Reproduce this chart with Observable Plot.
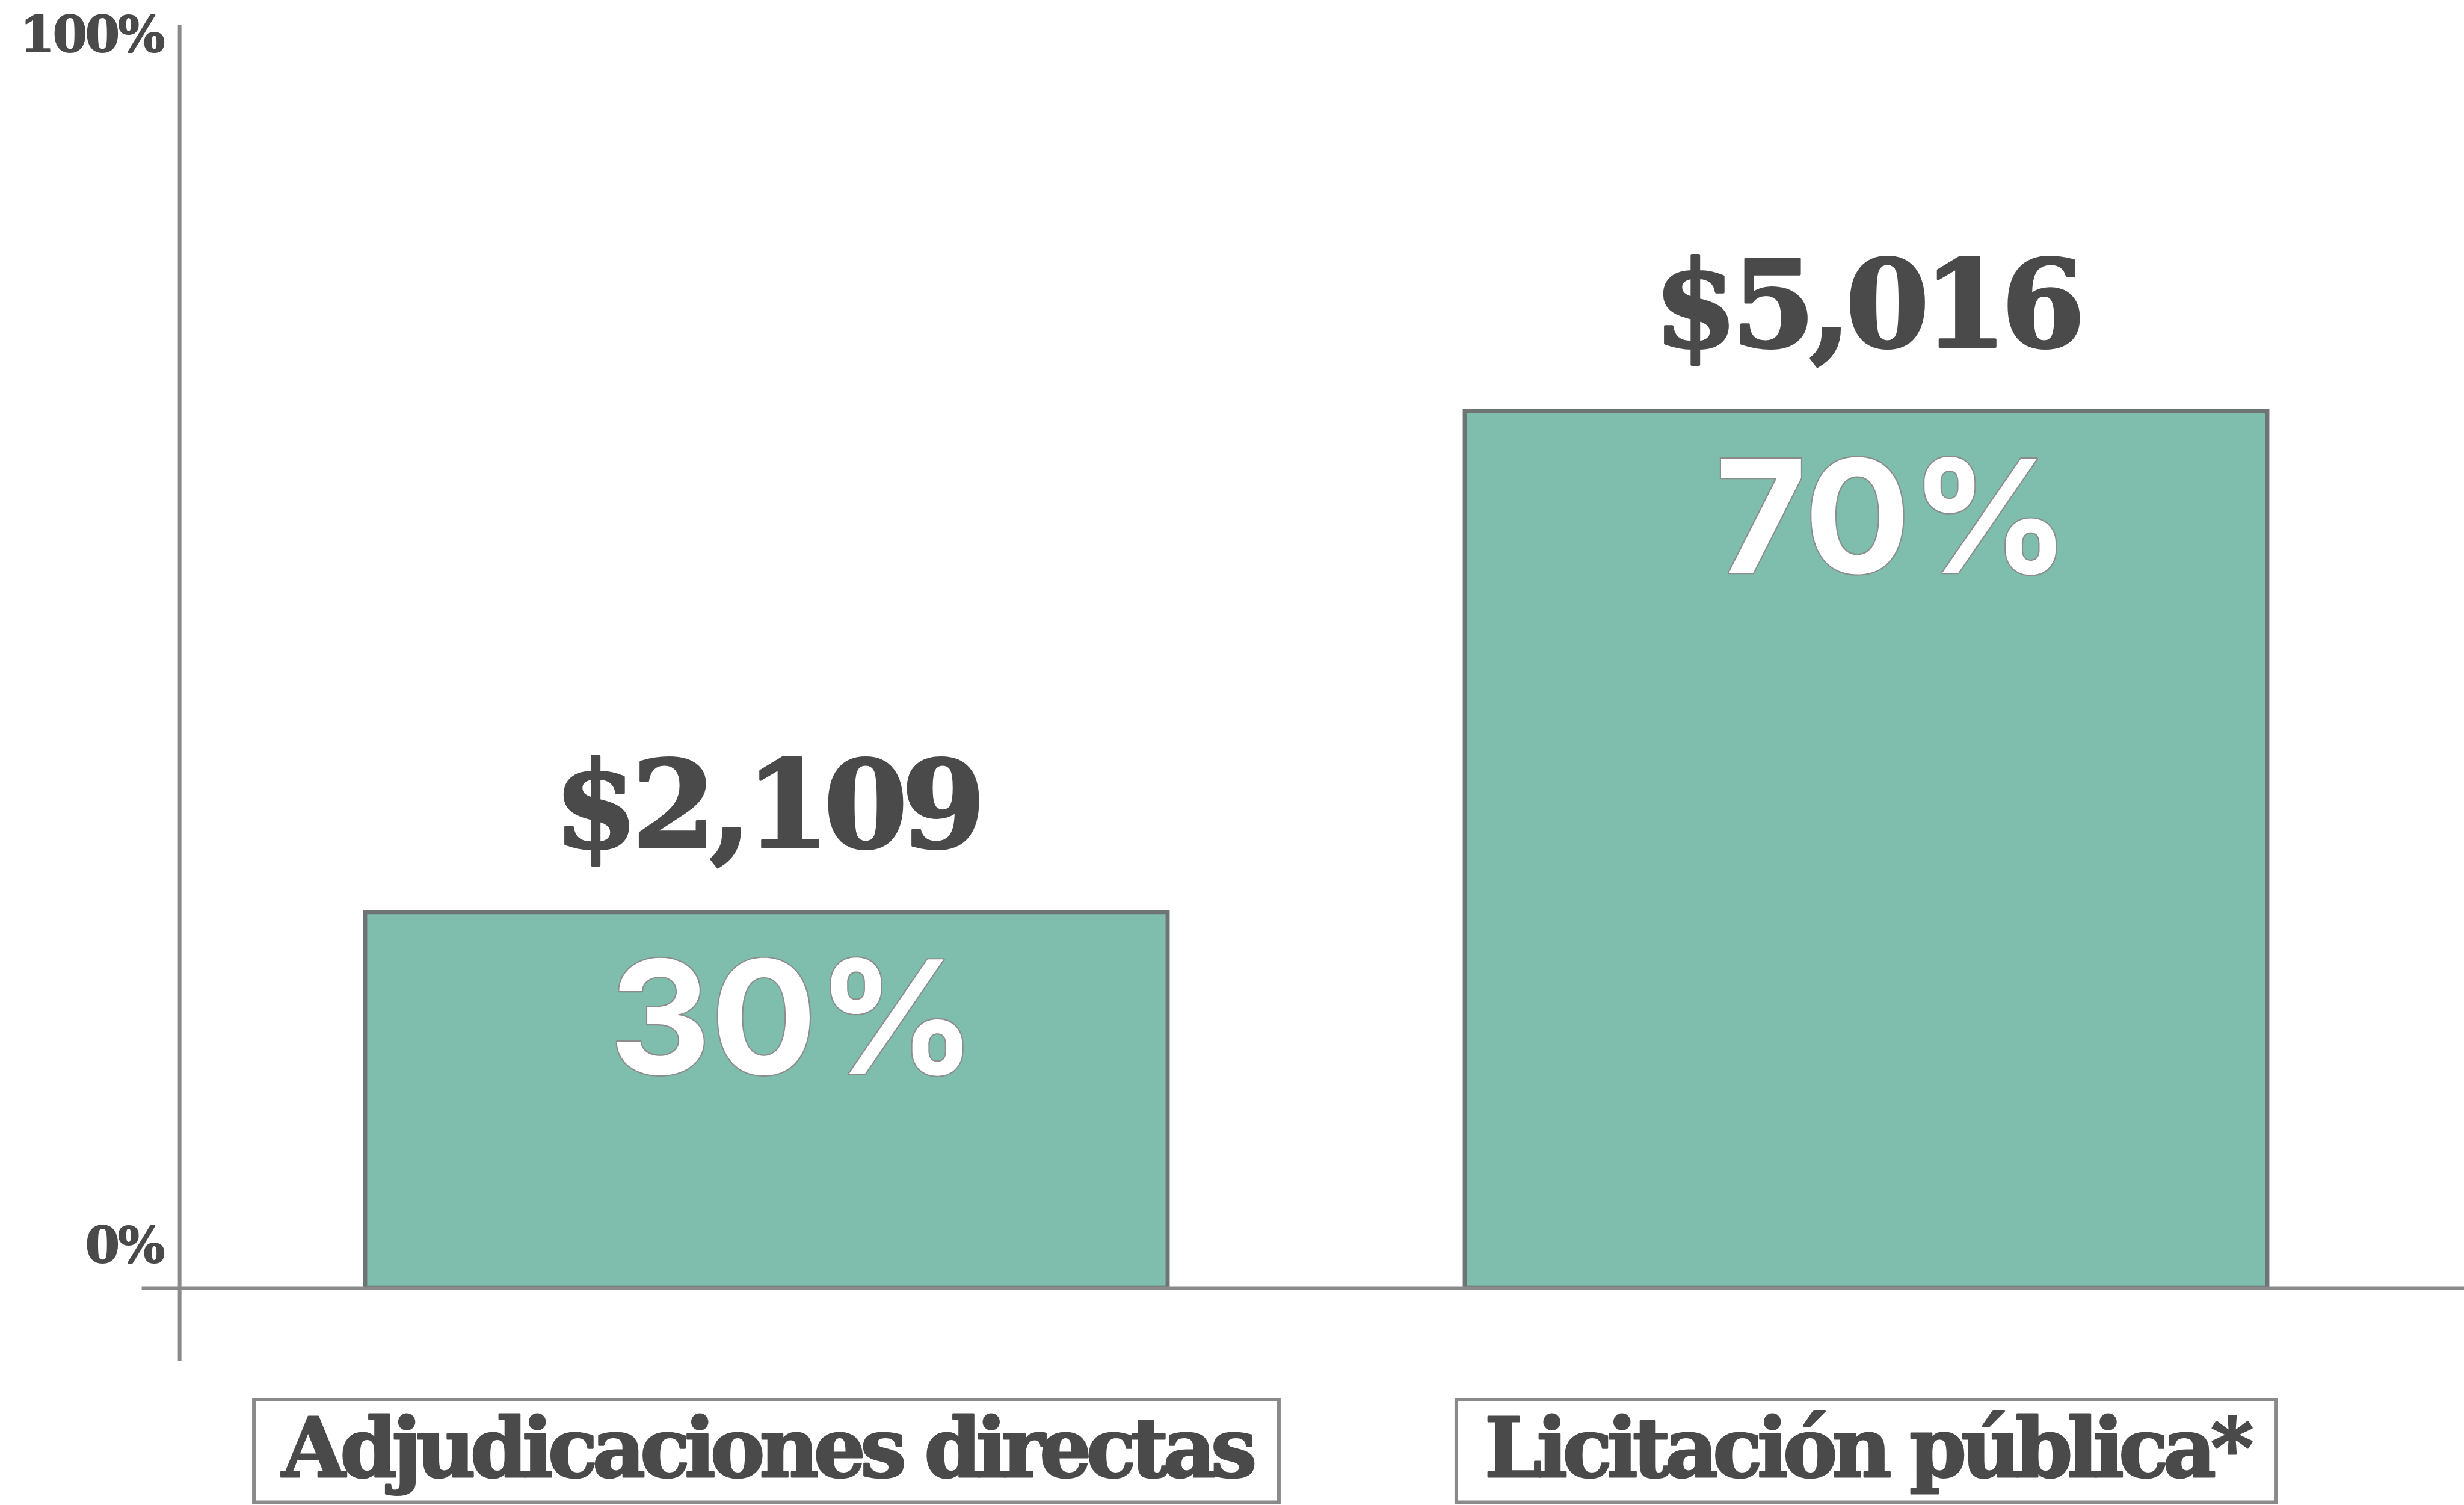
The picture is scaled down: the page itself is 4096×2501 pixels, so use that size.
<!DOCTYPE html>
<html>
<head>
<meta charset="utf-8">
<script src="https://cdn.jsdelivr.net/npm/d3@7"></script>
<script src="https://cdn.jsdelivr.net/npm/@observablehq/plot@0.6"></script>
<style>
  html, body { margin: 0; padding: 0; background: #ffffff; }
  #chart { width: 4096px; height: 2501px; overflow: hidden; }
</style>
</head>
<body>
<div id="chart"></div>
<script>
// ---- data ----
const categories = ["Adjudicaciones directas", "Licitación pública*"];
const shares = [30, 70];            // percent of total
const amounts = [2109, 5016];       // amount labels
const yTicks = [0, 100];
const yTickLabels = ["0%", "100%"];

// ---- layout / style ----
const S = 4096 / 4781;
const W = 4096, H = 2501;
const INK = "#4a4a4a", AXIS = "#8a8a8a", BAR = "#7fbdad", BAR_STROKE = "#6e7473";
const SERIF = "'DejaVu Serif', serif";
const SANS = "Inter, 'Open Sans', sans-serif";
const Y0 = 2498 * S, Y100 = 69 * S;      // pixel rows of 0% and 100%
const pxToY = px => (Y0 - px) / ((Y0 - Y100) / 100);

const data = categories.map((category, i) => ({category, share: shares[i], amount: amounts[i]}));
const fmtAmount = v => "$" + d3.format(",")(v);
const tickData = yTicks.map((v, i) => ({v, label: yTickLabels[i]}));

const LS = {category: -9, amount: -10, tick: -3};

function applySpacing(svg) {
  const sel = d3.select(svg).selectAll("text");
  sel.filter(function () { return categories.includes(this.textContent); }).style("letter-spacing", LS.category + "px");
  sel.filter(function () { return amounts.map(fmtAmount).includes(this.textContent); }).style("letter-spacing", LS.amount + "px");
  sel.filter(function () { return yTickLabels.includes(this.textContent); }).style("letter-spacing", LS.tick + "px");
}

function build(boxMarks) {
  return Plot.plot({
    width: W, height: H,
    marginLeft: 348 * S, marginRight: 0, marginTop: 52 * S, marginBottom: 284 * S,
    style: {background: "#ffffff", overflow: "hidden"},
    x: {domain: categories, range: [348 * S, 4760 * S], paddingInner: 0.27, paddingOuter: 0.1687, axis: null},
    y: {domain: [0, 100], range: [Y0, Y100], axis: null},
    marks: [
      ...boxMarks,
      Plot.frame({anchor: "left", stroke: AXIS, strokeWidth: 7 * S}),
      Plot.barY(data, {x: "category", y: "share", fill: BAR, stroke: BAR_STROKE, strokeWidth: 8 * S}),
      Plot.ruleY([0], {stroke: AXIS, strokeWidth: 7 * S, insetLeft: -73 * S}),
      // y tick labels
      Plot.text(tickData.filter(d => d.v === 100), {
        y: "v", text: "label", frameAnchor: "left", textAnchor: "end", lineAnchor: "middle",
        dx: -32 * S, fontFamily: SERIF, fontWeight: "bold", fontSize: 96 * S, fill: INK,
        stroke: INK, strokeWidth: 2
      }),
      Plot.text(tickData.filter(d => d.v === 0), {
        y: "v", text: "label", frameAnchor: "left", textAnchor: "end", lineAnchor: "bottom",
        dx: -32 * S, dy: -50 * S, fontFamily: SERIF, fontWeight: "bold", fontSize: 96 * S, fill: INK,
        stroke: INK, strokeWidth: 2
      }),
      // amounts above bars
      Plot.text(data, {
        x: "category", y: "share", text: d => fmtAmount(d.amount), lineAnchor: "bottom",
        dy: -126 * S, fontFamily: SERIF, fontWeight: "bold", fontSize: 234 * S, fill: INK,
        stroke: INK, strokeWidth: 4
      }),
      // percentages inside bars
      Plot.text(data, {
        x: "category", y: "share", text: d => d.share + "%", lineAnchor: "bottom",
        dx: 51 * S, dy: 313 * S, fontFamily: SANS, fontWeight: 700, fontSize: 305 * S,
        fill: "#ffffff", stroke: "#8c8c8c", strokeWidth: 5 * S, paintOrder: "stroke"
      }),
      // category labels below
      Plot.text(data, {
        x: "category", text: "category", frameAnchor: "bottom", lineAnchor: "bottom",
        dy: 228 * S, fontFamily: SERIF, fontWeight: "bold", fontSize: 159 * S, fill: INK,
        stroke: INK, strokeWidth: 3
      })
    ]
  });
}

const chart = document.getElementById("chart");
// pass 1: measure label widths and band width
const p1 = build([]);
chart.append(p1);
applySpacing(p1);
const bw = p1.scale("x").bandwidth;
const widths = categories.map(c => {
  let w = 0;
  d3.select(p1).selectAll("text").filter(function () { return this.textContent === c; })
    .each(function () { w = this.getBBox().width; });
  return w;
});
p1.remove();

// pass 2: boxes around category labels
const PAD = 50 * S;
const boxMarks = data.map((d, i) => {
  const inset = bw / 2 - (widths[i] / 2 + PAD);
  return Plot.barY([d], {
    x: "category", y1: pxToY(2715 * S), y2: pxToY(2914 * S),
    insetLeft: inset, insetRight: inset, fill: "#ffffff", stroke: AXIS, strokeWidth: 7 * S
  });
});
const p2 = build(boxMarks);
chart.append(p2);
applySpacing(p2);
</script>
</body>
</html>
